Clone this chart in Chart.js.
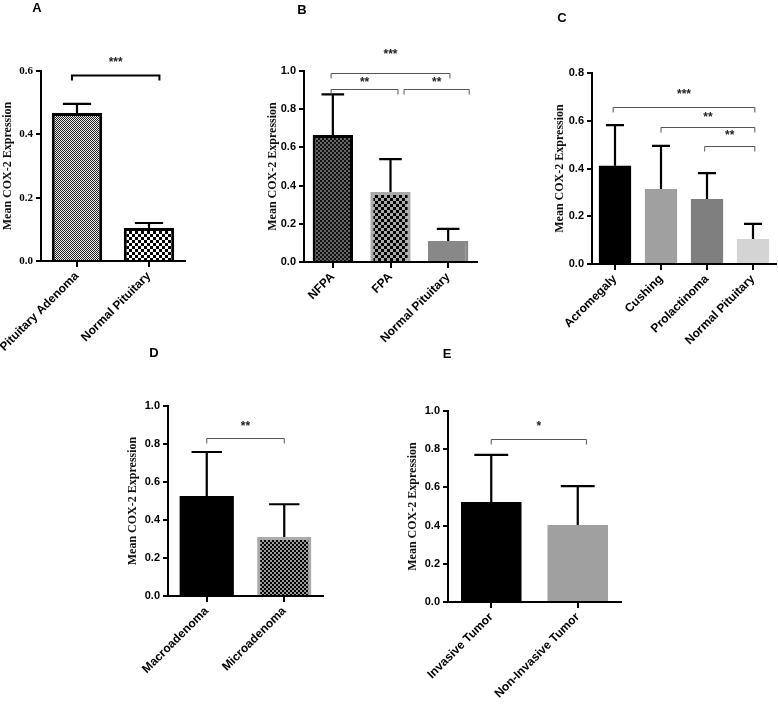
<!DOCTYPE html>
<html>
<head>
<meta charset="utf-8">
<script src="https://cdn.jsdelivr.net/npm/chart.js@4.4.1/dist/chart.umd.min.js"></script>
<style>
  body { margin: 0; background: #fff; }
  #fig { position: relative; width: 778px; height: 704px; overflow: hidden; }
  #fig canvas { position: absolute; left: 0; top: 0; }
  .tag { position: absolute; font: bold 13px "Liberation Sans", Arial, sans-serif; transform: translate(-50%, -50%); }
</style>
</head>
<body>
<div id="fig">
  <canvas id="cA" width="778" height="704"></canvas>
  <canvas id="cB" width="778" height="704"></canvas>
  <canvas id="cC" width="778" height="704"></canvas>
  <canvas id="cD" width="778" height="704"></canvas>
  <canvas id="cE" width="778" height="704"></canvas>
  <div class="tag" style="left:37px;top:7px">A</div>
  <div class="tag" style="left:302px;top:9px">B</div>
  <div class="tag" style="left:562px;top:17px">C</div>
  <div class="tag" style="left:154px;top:352px">D</div>
  <div class="tag" style="left:447px;top:353px">E</div>
</div>
<script>
// values (mean and upper error of COX-2 expression)
const yTitle = 'Mean COX-2 Expression';

const labelsA = ['Pituitary Adenoma', 'Normal Pituitary'];
const meanA = [0.467, 0.104];
const errA = [0.029, 0.016];
const ticksA = ['0.0', '0.2', '0.4', '0.6'];
const sigA = [[-0.07, 1.145, 0.587, '***']];

const labelsB = ['NFPA', 'FPA', 'Normal Pituitary'];
const meanB = [0.665, 0.366, 0.11];
const errB = [0.213, 0.173, 0.063];
const ticksB = ['0.0', '0.2', '0.4', '0.6', '0.8', '1.0'];
const sigB = [[-0.03, 2.03, 0.99, '***'], [-0.03, 1.13, 0.905, '**'], [1.235, 2.365, 0.905, '**']];

const labelsC = ['Acromegaly', 'Cushing', 'Prolactinoma', 'Normal Pituitary'];
const meanC = [0.412, 0.314, 0.272, 0.105];
const errC = [0.17, 0.181, 0.109, 0.063];
const ticksC = ['0.0', '0.2', '0.4', '0.6', '0.8'];
const sigC = [[-0.04, 3.04, 0.659, '***'], [1.0, 3.04, 0.575, '**'], [1.95, 3.04, 0.495, '**']];

const labelsD = ['Macroadenoma', 'Microadenoma'];
const meanD = [0.526, 0.31];
const errD = [0.232, 0.173];
const ticksD = ['0.0', '0.2', '0.4', '0.6', '0.8', '1.0'];
const sigD = [[0, 1, 0.832, '**']];

const labelsE = ['Invasive Tumor', 'Non-Invasive Tumor'];
const meanE = [0.524, 0.403];
const errE = [0.246, 0.204];
const ticksE = ['0.0', '0.2', '0.4', '0.6', '0.8', '1.0'];
const sigE = [[0, 1.1, 0.853, '*']];

const SANS = '"Liberation Sans", Arial, sans-serif';
const SERIF = '"Liberation Serif", "Times New Roman", serif';

function checker(ctx, cell, c1, c2) {
  const p = document.createElement('canvas');
  p.width = p.height = cell * 2;
  const g = p.getContext('2d');
  g.fillStyle = c2;
  g.fillRect(0, 0, cell * 2, cell * 2);
  g.fillStyle = c1;
  g.fillRect(0, 0, cell, cell);
  g.fillRect(cell, cell, cell, cell);
  return ctx.createPattern(p, 'repeat');
}

// error bars + significance brackets (+ the short x-axis stub left of the y axis)
const marks = {
  id: 'marks',
  afterDatasetsDraw(chart, args, opts) {
    const { ctx, chartArea, scales: { x, y } } = chart;
    const bars = chart.getDatasetMeta(0).data;
    ctx.save();
    ctx.strokeStyle = '#000';
    ctx.lineWidth = 2;
    ctx.beginPath();
    ctx.moveTo(chartArea.left - 5, chartArea.bottom);
    ctx.lineTo(chartArea.left, chartArea.bottom);
    ctx.stroke();

    ctx.lineWidth = 2.2;
    opts.err.forEach((e, i) => {
      const b = bars[i];
      const top = y.getPixelForValue(opts.mean[i] + e);
      const half = b.width * 0.28;
      ctx.beginPath();
      ctx.moveTo(b.x, b.y);
      ctx.lineTo(b.x, top);
      ctx.moveTo(b.x - half, top);
      ctx.lineTo(b.x + half, top);
      ctx.stroke();
    });

    ctx.strokeStyle = opts.bracketColor;
    ctx.lineWidth = opts.bracketWidth;
    ctx.fillStyle = '#222';
    ctx.font = 'bold 12px ' + SANS;
    ctx.textAlign = 'center';
    ctx.textBaseline = 'middle';
    opts.sig.forEach(([from, to, level, text], i) => {
      const x0 = x.getPixelForValue(from), x1 = x.getPixelForValue(to);
      const yy = Math.round(y.getPixelForValue(level)) + 0.5;
      ctx.beginPath();
      ctx.moveTo(x0, yy + 5);
      ctx.lineTo(x0, yy);
      ctx.lineTo(x1, yy);
      ctx.lineTo(x1, yy + 5);
      ctx.stroke();
      const gap = opts.starGap ? opts.starGap[i] : 11;
      ctx.fillText(text, (x0 + x1) / 2, yy - gap);
    });
    ctx.restore();
  }
};

function panel(id, cfg) {
  const el = document.getElementById(id);
  const ctx = el.getContext('2d');
  const a = cfg.area;
  const padLeft = cfg.titleX - 7.2;
  const yWidth = a.left - padLeft;
  const xHeight = 100;
  const ticks = cfg.ticks;
  return new Chart(el, {
    type: 'bar',
    data: {
      labels: cfg.labels,
      datasets: [{
        data: cfg.mean,
        backgroundColor: cfg.fill(ctx),
        borderColor: cfg.edge,
        borderWidth: cfg.edgeWidth,
        barPercentage: 0.7,
        categoryPercentage: 1
      }]
    },
    options: {
      responsive: false,
      animation: false,
      devicePixelRatio: 1,
      layout: { padding: { left: padLeft, top: a.top, right: 778 - a.right, bottom: 704 - a.bottom - xHeight } },
      plugins: {
        legend: { display: false },
        tooltip: { enabled: false },
        marks: {
          mean: cfg.mean, err: cfg.err, sig: cfg.sig, starGap: cfg.starGap,
          bracketColor: cfg.bracketColor || '#555', bracketWidth: cfg.bracketWidth || 1
        }
      },
      scales: {
        x: {
          z: 1,
          grid: { offset: false, drawOnChartArea: false, drawTicks: true, tickLength: 6, color: '#000', lineWidth: 2 },
          border: { display: true, color: '#000', width: 2 },
          ticks: { autoSkip: false, minRotation: 45, maxRotation: 45, padding: 2, color: '#000', font: { family: SANS, size: 12, weight: 'bold' } },
          afterFit: s => { s.height = xHeight; s.paddingLeft = 0; s.paddingRight = 0; }
        },
        y: {
          z: 1,
          min: 0,
          max: parseFloat(ticks[ticks.length - 1]),
          grid: { drawOnChartArea: false, drawTicks: true, tickLength: 5, color: '#000', lineWidth: 2 },
          border: { display: true, color: '#000', width: 2 },
          ticks: {
            stepSize: 0.2,
            padding: 3,
            color: '#000',
            font: { family: cfg.tickFamily || SANS, size: 11, weight: 'bold' },
            callback: (v, i) => ticks[i]
          },
          title: { display: true, text: yTitle, padding: 0, color: '#111', font: { family: SERIF, size: 12, weight: 'bold' } },
          afterFit: s => { s.width = yWidth; s.paddingTop = 0; s.paddingBottom = 0; }
        }
      }
    },
    plugins: [marks]
  });
}

panel('cA', {
  labels: labelsA, mean: meanA, err: errA, ticks: ticksA, sig: sigA,
  area: { left: 41, right: 185, top: 71, bottom: 261 }, titleX: 8,
  tickFamily: SERIF, bracketColor: '#000', bracketWidth: 2, starGap: [13],
  fill: ctx => [checker(ctx, 1, '#222', '#eee'), checker(ctx, 3, '#000', '#fff')],
  edge: '#000', edgeWidth: 3
});

panel('cB', {
  labels: labelsB, mean: meanB, err: errB, ticks: ticksB, sig: sigB,
  area: { left: 304, right: 477, top: 71, bottom: 262 }, titleX: 273,
  starGap: [19, 7, 7],
  fill: ctx => [checker(ctx, 2, '#111', '#666'), checker(ctx, 3, '#000', '#aaa'), '#888'],
  edge: ['#000', '#aaa', '#888'], edgeWidth: 3
});

panel('cC', {
  labels: labelsC, mean: meanC, err: errC, ticks: ticksC, sig: sigC,
  area: { left: 592, right: 776, top: 73, bottom: 264 }, titleX: 560,
  starGap: [13, 10, 11],
  fill: () => ['#000', '#a0a0a0', '#7f7f7f', '#d4d4d4'],
  edge: '#000', edgeWidth: 0
});

panel('cD', {
  labels: labelsD, mean: meanD, err: errD, ticks: ticksD, sig: sigD,
  area: { left: 168, right: 323, top: 406, bottom: 596 }, titleX: 133,
  starGap: [12],
  fill: ctx => ['#000', checker(ctx, 2, '#000', '#999')],
  edge: ['#000', '#aaa'], edgeWidth: [0, 3]
});

panel('cE', {
  labels: labelsE, mean: meanE, err: errE, ticks: ticksE, sig: sigE,
  area: { left: 448, right: 621, top: 411, bottom: 602 }, titleX: 413,
  starGap: [13],
  fill: () => ['#000', '#a0a0a0'],
  edge: '#000', edgeWidth: 0
});
</script>
</body>
</html>
